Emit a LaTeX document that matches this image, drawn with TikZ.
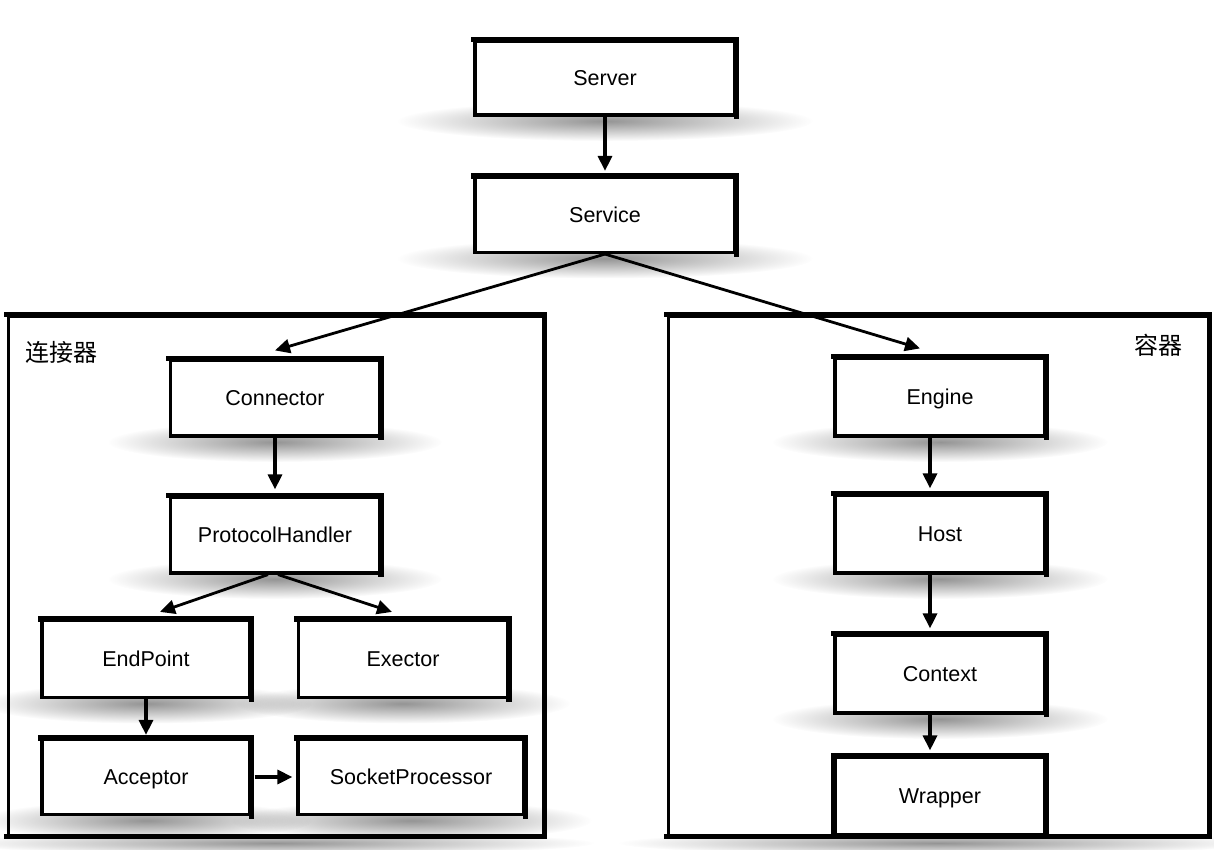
\documentclass[tikz,border=0pt]{standalone}
\usepackage{fontspec}
\setmainfont{Liberation Sans}
\newfontfamily\cjk{Noto Sans CJK SC}
\usetikzlibrary{arrows.meta,fadings,calc}
\tikzfading[name=softfade, inner color=transparent!0, outer color=transparent!100]
\tikzset{
  comp/.style={draw=black, line width=3.2pt, fill=white, inner sep=0pt,
    font=\fontsize{21.5}{25}\selectfont},
  heavy/.style={draw=black, line width=5.6pt, line cap=rect},
  cont/.style={draw=black, line width=3pt, fill=white, inner sep=0pt},
  shad/.style={fill=black, fill opacity=0.42, path fading=softfade},
  arr/.style={line width=3.2pt, -{Triangle[length=15pt,width=14pt]}},
  darr/.style={line width=2.8pt, -{Triangle[length=15pt,width=14pt]}},
  lbl/.style={font=\cjk\fontsize{24}{28}\selectfont, inner sep=0pt}
}
% #1 name, #2 cx, #3 cy, #4 w, #5 h, #6 text
\newcommand\compbox[6]{%
  \fill[shad] ({#2},{#3+#5/2+6}) ellipse [x radius={#4*0.8}, y radius=20];
  \node[comp, minimum width={#4*1pt}, minimum height={#5*1pt}, text depth=0pt, text height=15pt] (#1) at ({#2},{#3}) {#6};
  \draw[heavy] (#1.north west) -- (#1.north east) -- (#1.south east);
}
\begin{document}
\begin{tikzpicture}[x=1pt,y=-1pt]
\useasboundingbox (0,0) rectangle (1214,850);
\fill[white] (0,0) rectangle (1214,850);

% container shadows
\fill[shad] (275,843) ellipse [x radius=320, y radius=12];
\fill[shad] (938,843) ellipse [x radius=320, y radius=12];

% containers
\node[cont, minimum width=535pt, minimum height=519pt] (lc) at (275.5,575.5) {};
\draw[heavy] (lc.north west) -- (lc.north east) -- (lc.south east) -- (lc.south west);
\node[cont, minimum width=540pt, minimum height=519pt] (rc) at (938,575.5) {};
\draw[heavy] (rc.north west) -- (rc.north east) -- (rc.south east) -- (rc.south west);

\node[lbl] (lcl) at (61,352) {连接器};
\node[lbl] (rcl) at (1158,345) {容器};

% boxes
\compbox{server}{605}{78}{260}{74}{Server}
\compbox{service}{605}{215}{260}{75}{Service}
\compbox{conn}{275}{398}{209}{76}{Connector}
\compbox{ph}{275}{535}{209}{76}{ProtocolHandler}
\compbox{ep}{146}{659}{208}{77}{EndPoint}
\compbox{ex}{403}{659}{209}{77}{Exector}
\compbox{acc}{146}{777}{208}{75}{Acceptor}
\compbox{sp}{411}{777}{226}{75}{SocketProcessor}
\compbox{eng}{940}{397}{210}{78}{Engine}
\compbox{host}{940}{534}{210}{78}{Host}
\compbox{ctx}{940}{674}{210}{78}{Context}
\node[comp, minimum width=210pt, minimum height=78pt, text depth=0pt, text height=15pt] (wrap) at (940,796) {Wrapper};
\draw[heavy] (wrap.south west) -- (wrap.north west) -- (wrap.north east) -- (wrap.south east);
\draw[heavy] (rc.south west) -- (rc.south east);

% arrows
\draw[arr] (server.south) -- ([yshift=5pt]service.north);
\draw[darr] (service.south) -- ([yshift=8pt]conn.north);
\draw[darr] (service.south) -- ([xshift=-20pt,yshift=8pt]eng.north);
\draw[arr] (conn.south) -- ([yshift=6pt]ph.north);
\draw[darr] ([xshift=-7pt]ph.south) -- ([xshift=14pt,yshift=7pt]ep.north);
\draw[darr] ([xshift=3pt]ph.south) -- ([xshift=-11pt,yshift=7pt]ex.north);
\draw[arr] (ep.south) -- ([yshift=3pt]acc.north);
\draw[arr] ([xshift=3pt]acc.east) -- ([xshift=-4pt]sp.west);
\draw[arr] ([xshift=-10pt]eng.south) -- ([xshift=-10pt,yshift=5pt]host.north);
\draw[arr] ([xshift=-10pt]host.south) -- ([xshift=-10pt,yshift=5pt]ctx.north);
\draw[arr] ([xshift=-10pt]ctx.south) -- ([xshift=-10pt,yshift=5pt]wrap.north);
\end{tikzpicture}
\end{document}
